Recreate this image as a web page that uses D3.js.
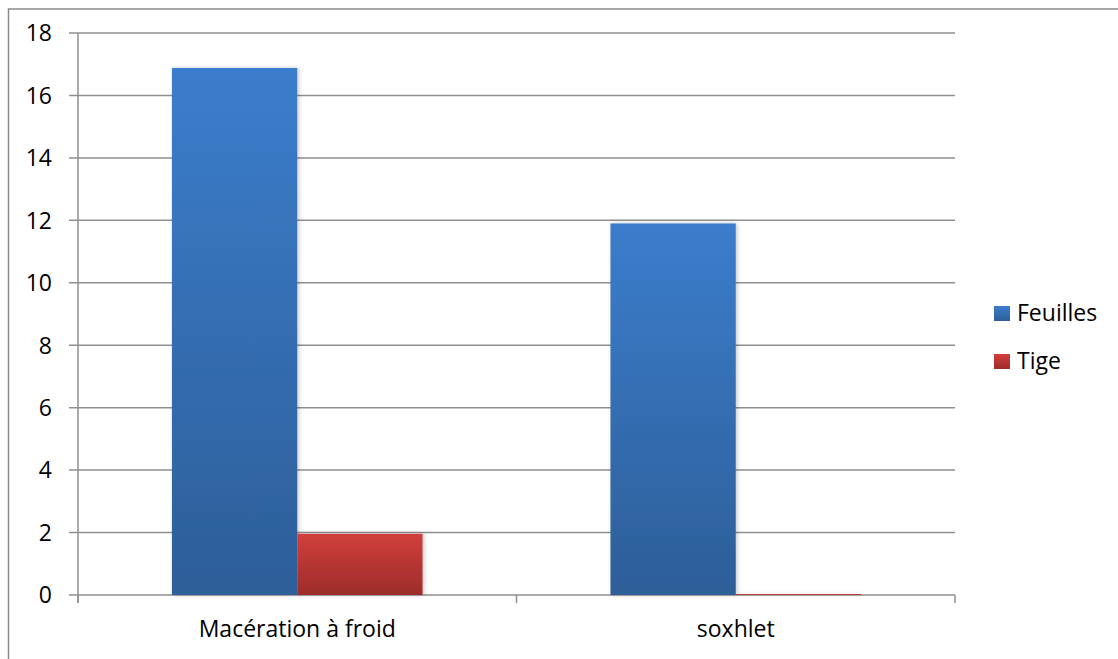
<!DOCTYPE html>
<html><head><meta charset="utf-8">
<script src="https://cdn.jsdelivr.net/npm/d3@7"></script>
<style>body{margin:0;background:#fff}svg{display:block}text{font-family:"Open Sans",Lato,sans-serif;fill:#000}</style>
</head><body>
<script>
const categories = ["Macération à froid", "soxhlet"];
const seriesNames = ["Feuilles", "Tige"];
const feuilles = [16.88, 11.9];
const tige = [1.96, 0.03];
const yTicks = [0, 2, 4, 6, 8, 10, 12, 14, 16, 18];

const W = 1118, H = 659;
const svg = d3.select("body").append("svg").attr("width", W).attr("height", H);
const defs = svg.append("defs");
const grads = [["gF", "#3b7dcc", "#2d5e98"], ["gT", "#d23f3c", "#9d2c2a"]];
grads.forEach(([id, a, b]) => {
  const g = defs.append("linearGradient").attr("id", id).attr("x1", 0).attr("y1", 0).attr("x2", 0).attr("y2", 1);
  g.append("stop").attr("offset", "0%").attr("stop-color", a);
  g.append("stop").attr("offset", "100%").attr("stop-color", b);
});
const f = defs.append("filter").attr("id", "sh").attr("x", "-10%").attr("y", "-10%").attr("width", "130%").attr("height", "130%");
f.append("feDropShadow").attr("dx", 1.5).attr("dy", 0).attr("stdDeviation", 2).attr("flood-color", "#000").attr("flood-opacity", 0.22);

svg.append("rect").attr("x", 8.5).attr("y", 9).attr("width", 1200).attr("height", 700)
  .attr("fill", "none").attr("stroke", "#8c8c8c").attr("stroke-width", 1.5);

const x0 = d3.scaleBand().domain(categories).range([78, 955]).paddingInner(0).paddingOuter(0);
const y = d3.scaleLinear().domain([0, 18]).range([595, 33]);
const barW = x0.bandwidth() / 3.5;
const x1 = d3.scaleBand().domain(seriesNames).range([0, 2 * barW]);
const grid = svg.append("g");
yTicks.forEach(t => {
  grid.append("line").attr("x1", 69).attr("x2", 955).attr("y1", y(t)).attr("y2", y(t))
    .attr("stroke", "#8f8f8f").attr("stroke-width", 1.5);
});
svg.append("line").attr("x1", 78).attr("x2", 78).attr("y1", y(18)).attr("y2", 603).attr("stroke", "#8f8f8f").attr("stroke-width", 1.5);
[78, 78 + x0.bandwidth(), 955].forEach(v => {
  svg.append("line").attr("x1", v).attr("x2", v).attr("y1", y(0)).attr("y2", 603).attr("stroke", "#8f8f8f").attr("stroke-width", 1.5);
});

const data = [feuilles, tige];
const gradIds = ["url(#gF)", "url(#gT)"];
const bars = svg.append("g").attr("filter", "url(#sh)");
seriesNames.forEach((s, si) => {
  categories.forEach((c, ci) => {
    const v = data[si][ci];
    bars.append("rect")
      .attr("x", x0(c) + (x0.bandwidth() - 2 * barW) / 2 + x1(s))
      .attr("y", y(v)).attr("width", x1.bandwidth()).attr("height", y(0) - y(v))
      .attr("fill", gradIds[si]);
  });
});

yTicks.forEach(t => {
  svg.append("text").attr("x", 52).attr("y", y(t)).attr("dy", "0.36em").attr("text-anchor", "end")
    .style("font-size", "23px").text(t);
});
categories.forEach(c => {
  svg.append("text").attr("x", x0(c) + x0.bandwidth() / 2).attr("y", 637).attr("text-anchor", "middle")
    .style("font-size", "23px").text(c);
});
seriesNames.forEach((s, i) => {
  const ly = 313 + i * 48;
  svg.append("rect").attr("x", 994).attr("y", ly - 7).attr("width", 16).attr("height", 15).attr("fill", gradIds[i]);
  svg.append("text").attr("x", 1017).attr("y", ly).attr("dy", "0.36em").style("font-size", "23px").text(s);
});
</script>
</body></html>
